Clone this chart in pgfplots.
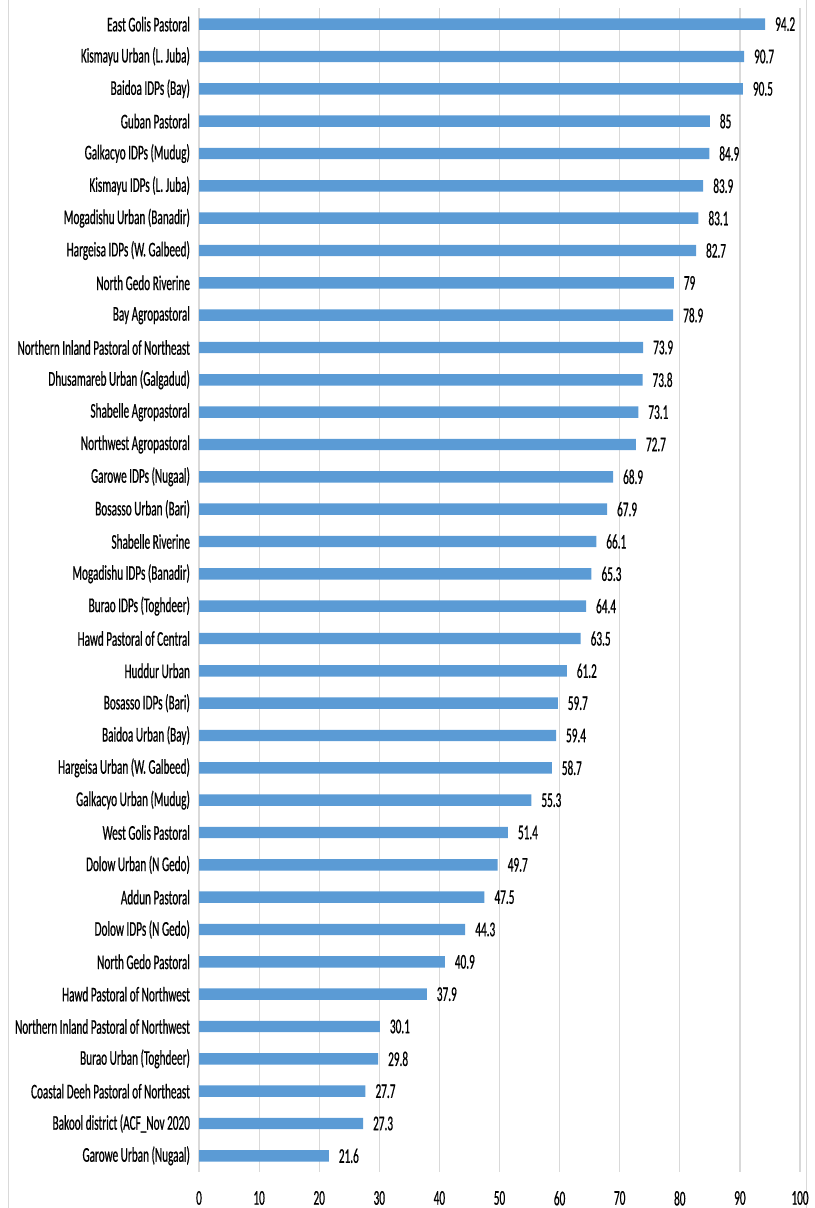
\documentclass[border=0pt]{standalone}
\usepackage{fontspec}
\usepackage{pgfplots}
\pgfplotsset{compat=1.18}
\newfontfamily\cf[FakeStretch=0.535,FakeBold=0.6]{Carlito}
\definecolor{barblue}{HTML}{5B9BD5}
\definecolor{gridgray}{HTML}{D9D9D9}
\begin{document}
\begin{tikzpicture}
\useasboundingbox (0,0) rectangle (407pt,604pt);
\draw[gridgray] (4pt,0) -- (4pt,604pt);
\draw[gridgray] (403pt,0) -- (403pt,604pt);
\begin{axis}[
  at={(99.5pt,18pt)}, anchor=south west,
  scale only axis, width=300.5pt, height=582pt,
  xbar, bar width=5.7pt,
  y dir=reverse,
  xmin=0, xmax=100, ymin=-0.5, ymax=35.5,
  xtick={0,10,...,100},
  ytick={0,...,35},
  yticklabels={East Golis Pastoral, Kismayu Urban (L. Juba), Baidoa IDPs (Bay), Guban Pastoral,
    Galkacyo IDPs (Mudug), Kismayu IDPs (L. Juba), Mogadishu Urban (Banadir), Hargeisa IDPs (W. Galbeed),
    North Gedo Riverine, Bay Agropastoral, Northern Inland Pastoral of Northeast, Dhusamareb Urban (Galgadud),
    Shabelle Agropastoral, Northwest Agropastoral, Garowe IDPs (Nugaal), Bosasso Urban (Bari),
    Shabelle Riverine, Mogadishu IDPs (Banadir), Burao IDPs (Toghdeer), Hawd Pastoral of Central,
    Huddur Urban, Bosasso IDPs (Bari), Baidoa Urban (Bay), Hargeisa Urban (W. Galbeed),
    Galkacyo Urban (Mudug), West Golis Pastoral, Dolow Urban (N Gedo), Addun Pastoral,
    Dolow IDPs (N Gedo), North Gedo Pastoral, Hawd Pastoral of Northwest, Northern Inland Pastoral of Northwest,
    Burao Urban (Toghdeer), Coastal Deeh Pastoral of Northeast, Bakool district (ACF\_Nov 2020, Garowe Urban (Nugaal)},
  /pgf/number format/assume math mode=true,
  ticklabel style={font=\fontsize{10.5}{12}\cf},
  xticklabel style={yshift=-6pt},
  yticklabel style={xshift=-1pt},
  major tick length=0pt,
  axis line style={draw=none},
  xmajorgrids, grid style={gridgray, line width=0.6pt},
  point meta=x,
  nodes near coords,
  every node near coord/.append style={font=\fontsize{10.5}{12}\cf, anchor=west, xshift=1.5pt},
]
\addplot[fill=barblue, draw=none] coordinates {
(94.2,0) (90.7,1) (90.5,2) (85,3) (84.9,4) (83.9,5) (83.1,6) (82.7,7)
(79,8) (78.9,9) (73.9,10) (73.8,11) (73.1,12) (72.7,13) (68.9,14) (67.9,15)
(66.1,16) (65.3,17) (64.4,18) (63.5,19) (61.2,20) (59.7,21) (59.4,22) (58.7,23)
(55.3,24) (51.4,25) (49.7,26) (47.5,27) (44.3,28) (40.9,29) (37.9,30) (30.1,31)
(29.8,32) (27.7,33) (27.3,34) (21.6,35)
};
\end{axis}
\end{tikzpicture}
\end{document}
